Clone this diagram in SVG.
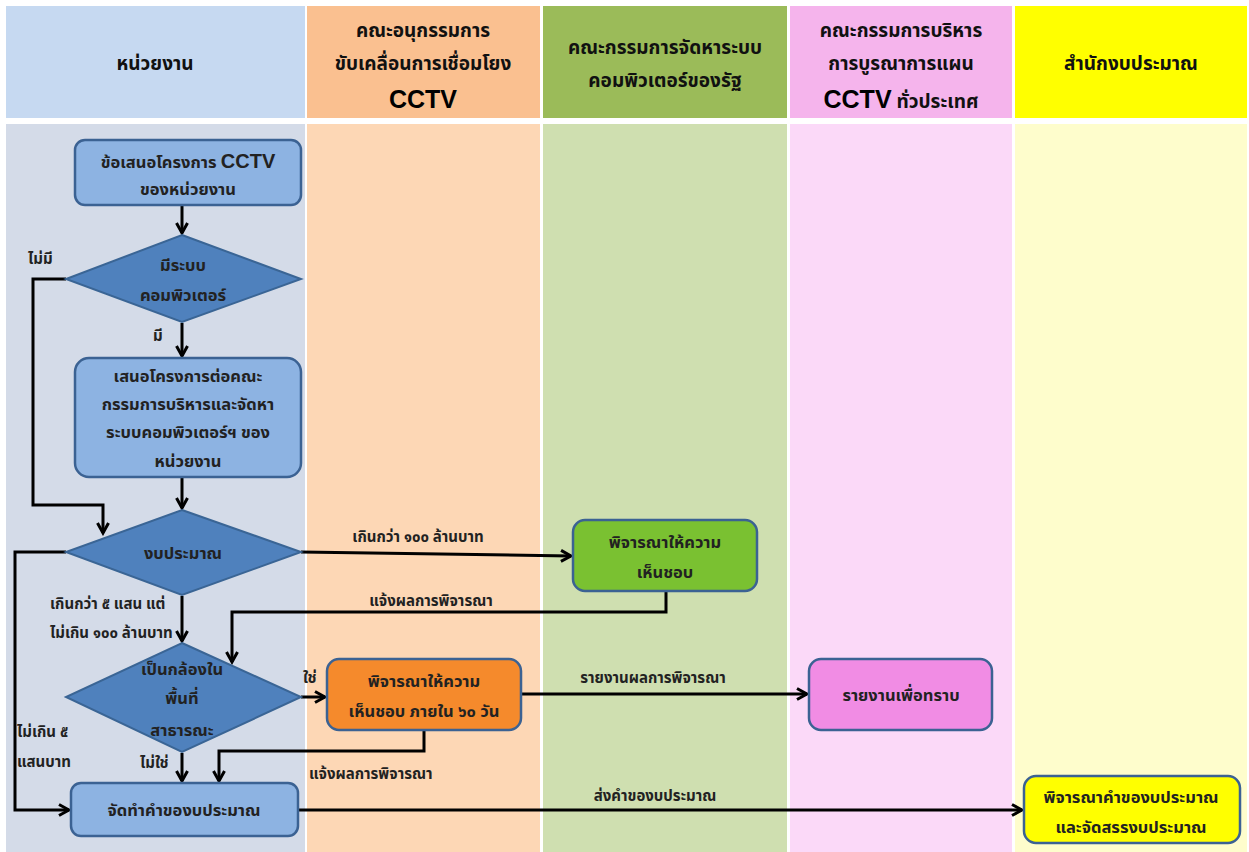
<svg xmlns="http://www.w3.org/2000/svg" width="1249" height="852" viewBox="0 0 1249 852">
<defs>
<marker id="arr" markerWidth="14" markerHeight="14" refX="11" refY="7" orient="auto" markerUnits="userSpaceOnUse">
<path d="M1,1.5 L11,7 L1,12.5" fill="none" stroke="#000" stroke-width="3"/>
</marker>
<style>
.t{font-family:"Noto Sans Thai","Tahoma","DejaVu Sans","Liberation Sans",sans-serif;font-weight:bold;font-size:15px;fill:#222;text-anchor:middle}
.n{font-size:16.5px}
.h{font-size:19px;fill:#111}
.big{font-family:"Liberation Sans","Noto Sans Thai",sans-serif;font-size:25px;font-weight:bold;fill:#000}
.lb{text-anchor:start}
.box{stroke:#3b6293;stroke-width:2.5}
.dia{fill:#4f81bd;stroke:#3a6595;stroke-width:2}
.ca{fill:none;stroke:#000;stroke-width:3;marker-end:url(#arr)}
</style>
</defs>
<rect width="1249" height="852" fill="#fff"/>
<g id="lanes">
<rect x="6" y="6" width="299" height="112" fill="#c6d9f1"/>
<rect x="307" y="6" width="233" height="112" fill="#fac090"/>
<rect x="543" y="6" width="244" height="112" fill="#9bbb59"/>
<rect x="790" y="6" width="222" height="112" fill="#f5b4ec"/>
<rect x="1015" y="6" width="232" height="112" fill="#ffff00"/>
<rect x="6" y="124" width="299" height="728" fill="#d4dbe8"/>
<rect x="307" y="124" width="233" height="728" fill="#fdd7b5"/>
<rect x="543" y="124" width="244" height="728" fill="#cfdfb0"/>
<rect x="790" y="124" width="222" height="728" fill="#fbd9f8"/>
<rect x="1015" y="124" width="232" height="728" fill="#fefdcc"/>
<text class="t h" x="155" y="70">หน่วยงาน</text>
<text class="t h" x="423" y="37">คณะอนุกรรมการ</text>
<text class="t h" x="423" y="70">ขับเคลื่อนการเชื่อมโยง</text>
<text class="big" x="423" y="108" text-anchor="middle">CCTV</text>
<text class="t h" x="665" y="54">คณะกรรมการจัดหาระบบ</text>
<text class="t h" x="665" y="87">คอมพิวเตอร์ของรัฐ</text>
<text class="t h" x="901" y="37">คณะกรรมการบริหาร</text>
<text class="t h" x="901" y="70">การบูรณาการแผน</text>
<text class="t h" x="901" y="108"><tspan class="big">CCTV</tspan> ทั่วประเทศ</text>
<text class="t h" x="1131" y="70">สำนักงบประมาณ</text>
</g>
<g id="connectors">
<path class="ca" d="M182,206 V233"/>
<path class="ca" d="M182,323 V356"/>
<path class="ca" d="M66,279 H33 V505 H103 V533"/>
<path class="ca" d="M182,478 V508"/>
<path class="ca" d="M301,552 L571,556"/>
<path class="ca" d="M182,596 V641"/>
<path class="ca" d="M666,592 V612 H232 V662"/>
<path class="ca" d="M66,552 H15 V810 H69"/>
<path class="ca" d="M301,697 H325"/>
<path class="ca" d="M182,753 V781"/>
<path class="ca" d="M424,731 V751 H219 V781"/>
<path class="ca" d="M522,694 H807"/>
<path class="ca" d="M299,810 H1022"/>
<text class="t" x="418" y="542">เกินกว่า ๑๐๐ ล้านบาท</text>
<text class="t" x="431" y="606">แจ้งผลการพิจารณา</text>
<text class="t lb" x="28" y="264">ไม่มี</text>
<text class="t lb" x="153" y="341">มี</text>
<text class="t lb" x="50" y="609">เกินกว่า ๕ แสน แต่</text>
<text class="t lb" x="50" y="638">ไม่เกิน ๑๐๐ ล้านบาท</text>
<text class="t lb" x="17" y="737">ไม่เกิน ๕</text>
<text class="t lb" x="17" y="767">แสนบาท</text>
<text class="t lb" x="303" y="683">ใช่</text>
<text class="t lb" x="140" y="768">ไม่ใช่</text>
<text class="t lb" x="309" y="779">แจ้งผลการพิจารณา</text>
<text class="t" x="653" y="683">รายงานผลการพิจารณา</text>
<text class="t" x="655" y="801">ส่งคำของบประมาณ</text>
</g>
<g id="n1">
<rect class="box" x="75" y="140" width="226" height="65" rx="10" fill="#8db3e2"/>
<text class="t n" x="188" y="168">ข้อเสนอโครงการ <tspan font-family="Liberation Sans" font-size="20">CCTV</tspan></text>
<text class="t n" x="188" y="195">ของหน่วยงาน</text>
</g>
<g id="n2">
<polygon class="dia" points="182,235 301,279 182,322 66,279"/>
<text class="t n" x="183" y="271">มีระบบ</text>
<text class="t n" x="183" y="301">คอมพิวเตอร์</text>
</g>
<g id="n3">
<rect class="box" x="75" y="358" width="226" height="119" rx="14" fill="#8db3e2"/>
<text class="t n" x="188" y="382">เสนอโครงการต่อคณะ</text>
<text class="t n" x="188" y="410">กรรมการบริหารและจัดหา</text>
<text class="t n" x="188" y="438">ระบบคอมพิวเตอร์ฯ ของ</text>
<text class="t n" x="188" y="467">หน่วยงาน</text>
</g>
<g id="n4">
<polygon class="dia" points="182,510 301,552 182,595 66,552"/>
<text class="t n" x="183" y="559">งบประมาณ</text>
</g>
<g id="n5">
<polygon class="dia" points="182,643 301,697 182,752 66,697"/>
<text class="t n" x="182" y="675">เป็นกล้องใน</text>
<text class="t n" x="182" y="704">พื้นที่</text>
<text class="t n" x="182" y="736">สาธารณะ</text>
</g>
<g id="n6">
<rect class="box" x="71" y="783" width="227" height="53" rx="10" fill="#8db3e2"/>
<text class="t n" x="184" y="816">จัดทำคำของบประมาณ</text>
</g>
<g id="n7">
<rect class="box" x="573" y="520" width="184" height="71" rx="12" fill="#7ac131"/>
<text class="t n" x="665" y="548">พิจารณาให้ความ</text>
<text class="t n" x="665" y="578">เห็นชอบ</text>
</g>
<g id="n8">
<rect class="box" x="327" y="659" width="194" height="71" rx="12" fill="#f58a2c"/>
<text class="t n" x="424" y="687">พิจารณาให้ความ</text>
<text class="t n" x="424" y="717">เห็นชอบ ภายใน ๖๐ วัน</text>
</g>
<g id="n9">
<rect class="box" x="809" y="659" width="183" height="71" rx="12" fill="#f18ce4"/>
<text class="t n" x="901" y="701">รายงานเพื่อทราบ</text>
</g>
<g id="n10">
<rect class="box" x="1024" y="776" width="216" height="67" rx="12" fill="#ffff00"/>
<text class="t n" x="1131" y="803">พิจารณาคำของบประมาณ</text>
<text class="t n" x="1131" y="833">และจัดสรรงบประมาณ</text>
</g>
</svg>
